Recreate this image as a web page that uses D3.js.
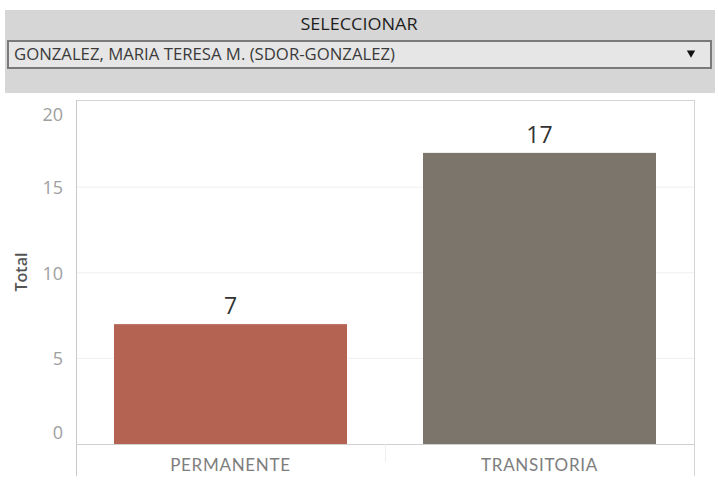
<!DOCTYPE html>
<html>
<head>
<meta charset="utf-8">
<script src="https://cdn.jsdelivr.net/npm/d3@7"></script>
<style>
  html, body { margin: 0; padding: 0; background: #fff; }
  svg { display: block; }
</style>
</head>
<body>
<svg id="chart" width="718" height="490"></svg>
<script>
// Filter header
const filterTitle = "SELECCIONAR";
const filterValue = "GONZALEZ, MARIA TERESA M. (SDOR-GONZALEZ)";

// Chart data
const categories = ["PERMANENTE", "TRANSITORIA"];
const totals = [7, 17];
const barColors = ["#b46353", "#7c756c"];
const yTicks = [0, 5, 10, 15, 20];
const yTitle = "Total";

const svg = d3.select("#chart");

// ---- filter panel ----
const head = svg.append("g");
head.append("rect")
  .attr("x", 5).attr("y", 10).attr("width", 710).attr("height", 83)
  .attr("fill", "#d6d6d6");
head.append("text")
  .attr("x", 359).attr("y", 30)
  .attr("text-anchor", "middle")
  .attr("font-family", "Open Sans, sans-serif")
  .attr("font-size", 16)
  .attr("fill", "#1e1e1e")
  .attr("textLength", 117).attr("lengthAdjust", "spacingAndGlyphs")
  .text(filterTitle);
head.append("rect")
  .attr("x", 8).attr("y", 41).attr("width", 703).attr("height", 27)
  .attr("fill", "#e6e6e6")
  .attr("stroke", "#7a7a7a").attr("stroke-width", 2);
head.append("text")
  .attr("x", 14).attr("y", 60)
  .attr("font-family", "Open Sans, sans-serif")
  .attr("font-size", 16)
  .attr("fill", "#3a3a3a")
  .attr("textLength", 381).attr("lengthAdjust", "spacingAndGlyphs")
  .text(filterValue);
head.append("path")
  .attr("d", d3.symbol(d3.symbolTriangle, 30)())
  .attr("transform", "translate(691,53) rotate(180)")
  .attr("fill", "#111");

// ---- bar chart ----
const plot = { left: 76, right: 694, top: 100, bottom: 444 };

const x = d3.scaleBand()
  .domain(categories)
  .range([plot.left, plot.right])
  .paddingInner(0.246)
  .paddingOuter(0.123);

const y = d3.scaleLinear()
  .domain([0, 20])
  .range([plot.bottom, plot.top + 1.5]);

const g = svg.append("g");

// gridlines
g.selectAll(".grid")
  .data(yTicks.filter(t => t > 0 && t < 20))
  .join("line")
  .attr("x1", plot.left).attr("x2", plot.right)
  .attr("y1", d => y(d)).attr("y2", d => y(d))
  .attr("stroke", "#efefef").attr("stroke-width", 1);

// frame
g.append("line")
  .attr("x1", plot.left).attr("x2", plot.right + 1)
  .attr("y1", plot.top + 0.5).attr("y2", plot.top + 0.5)
  .attr("stroke", "#d4d4d4");
g.append("line")
  .attr("x1", plot.left + 0.5).attr("x2", plot.left + 0.5)
  .attr("y1", plot.top).attr("y2", 476)
  .attr("stroke", "#c8c8c8");
g.append("line")
  .attr("x1", plot.right + 0.5).attr("x2", plot.right + 0.5)
  .attr("y1", plot.top).attr("y2", 476)
  .attr("stroke", "#d4d4d4");

// bars
g.selectAll(".bar")
  .data(categories)
  .join("rect")
  .attr("x", d => x(d))
  .attr("width", x.bandwidth())
  .attr("y", (d, i) => y(totals[i]))
  .attr("height", (d, i) => y(0) - y(totals[i]))
  .attr("fill", (d, i) => barColors[i]);

// zero line and category divider
g.append("line")
  .attr("x1", plot.left).attr("x2", plot.right)
  .attr("y1", plot.bottom + 0.5).attr("y2", plot.bottom + 0.5)
  .attr("stroke", "#cfcfcf");
g.append("line")
  .attr("x1", x(categories[1]) - x.step() * x.paddingInner() / 2 + 0.5)
  .attr("x2", x(categories[1]) - x.step() * x.paddingInner() / 2 + 0.5)
  .attr("y1", plot.bottom).attr("y2", 462)
  .attr("stroke", "#eeeeee");

// value labels
g.selectAll(".val")
  .data(categories)
  .join("text")
  .attr("x", d => x(d) + x.bandwidth() / 2)
  .attr("y", (d, i) => y(totals[i]) - 10)
  .attr("text-anchor", "middle")
  .attr("font-family", "Open Sans, sans-serif")
  .attr("font-size", 23)
  .attr("fill", "#333")
  .text((d, i) => totals[i]);

// y-axis tick labels (kept inside the plot's vertical extent)
g.selectAll(".ytick")
  .data(yTicks)
  .join("text")
  .attr("x", 63)
  .attr("y", d => Math.min(Math.max(y(d), plot.top + 14), plot.bottom - 12) + 7)
  .attr("text-anchor", "end")
  .attr("font-family", "Open Sans, sans-serif")
  .attr("font-size", 18)
  .attr("fill", "#a0a0a0")
  .text(d => d);

// category labels
g.selectAll(".cat")
  .data(categories)
  .join("text")
  .attr("x", d => x(d) + x.bandwidth() / 2)
  .attr("y", 471)
  .attr("text-anchor", "middle")
  .attr("font-family", "Lato, sans-serif")
  .attr("font-size", 17)
  .attr("letter-spacing", 0.7)
  .attr("fill", "#7e7e7e")
  .text(d => d);

// y-axis title
g.append("text")
  .attr("transform", "translate(27,272) rotate(-90)")
  .attr("text-anchor", "middle")
  .attr("font-family", "Open Sans, sans-serif")
  .attr("font-size", 17)
  .attr("font-weight", 600)
  .attr("fill", "#555")
  .attr("textLength", 39).attr("lengthAdjust", "spacingAndGlyphs")
  .text(yTitle);
</script>
</body>
</html>
